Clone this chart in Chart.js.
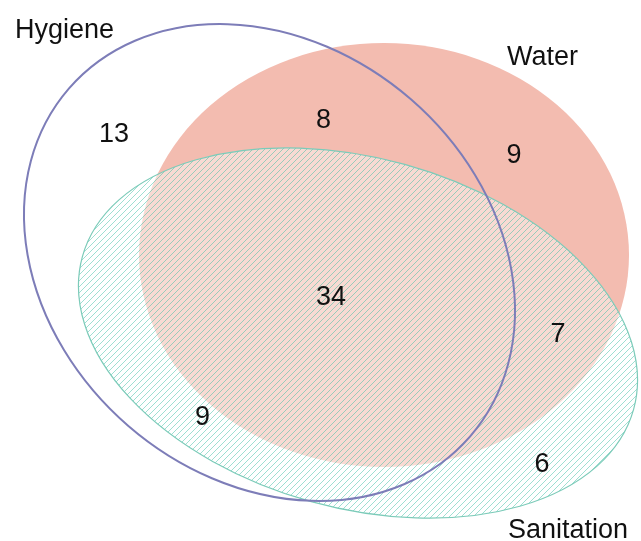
<!DOCTYPE html>
<html>
<head>
<meta charset="utf-8">
<script src="https://cdn.jsdelivr.net/npm/chart.js@4.4.0/dist/chart.umd.min.js"></script>
<style>
    html, body { margin: 0; padding: 0; background: #fff; }
    #wrap { width: 641px; height: 541px; }
</style>
</head>
<body>
<div id="wrap"><canvas id="venn" width="641" height="541"></canvas></div>
<script>
// ---- data ----
const setNames = ['Hygiene', 'Water', 'Sanitation'];
const regionNames = ['Hygiene only', 'Hygiene & Water', 'Water only', 'All three',
                     'Water & Sanitation', 'Hygiene & Sanitation', 'Sanitation only'];
const regionCounts = [13, 8, 9, 34, 7, 9, 6];

// ---- geometry (plot units, 1 unit = 1px, y grows downward) ----
const setShapes = [
    {cx: 269.5, cy: 262.5, rx: 265.5, ry: 216, rot: 40.9},   // Hygiene
    {cx: 384,   cy: 255,   rx: 245,   ry: 212, rot: 0},      // Water
    {cx: 358,   cy: 333,   rx: 286,   ry: 175, rot: 15.5}    // Sanitation
];
const countAnchors = [[114, 142], [323.5, 128], [514, 163], [331, 305], [558, 342], [202.5, 425], [542, 472]];
const nameAnchors = [[15, 38], [507, 65], [508, 538]];

const FONT = '27px "Liberation Sans", Arial, sans-serif';

function hatchPattern(ctx) {
    const c = document.createElement('canvas');
    c.width = 6; c.height = 6;
    const p = c.getContext('2d');
    p.strokeStyle = 'rgba(40,185,155,0.5)';
    p.lineWidth = 0.9;
    p.beginPath();
    p.moveTo(-1, 7); p.lineTo(7, -1);
    p.moveTo(-1, 1); p.lineTo(1, -1);
    p.moveTo(5, 7); p.lineTo(7, 5);
    p.stroke();
    return ctx.createPattern(c, 'repeat');
}

function ellipsePath(chart, s) {
    const x = chart.scales.x, y = chart.scales.y;
    const px = x.getPixelForValue(s.cx), py = y.getPixelForValue(s.cy);
    const prx = Math.abs(x.getPixelForValue(s.cx + s.rx) - px);
    const pry = Math.abs(y.getPixelForValue(s.cy + s.ry) - py);
    const ctx = chart.ctx;
    ctx.beginPath();
    ctx.ellipse(px, py, prx, pry, s.rot * Math.PI / 180, 0, Math.PI * 2);
}

const vennPlugin = {
    id: 'venn',
    beforeDatasetsDraw(chart) {
        const ctx = chart.ctx;
        ctx.save();
        // Water
        ellipsePath(chart, setShapes[1]);
        ctx.fillStyle = '#F3BCB0';
        ctx.fill();
        // Sanitation
        ellipsePath(chart, setShapes[2]);
        ctx.fillStyle = 'rgba(255,255,255,0.45)';
        ctx.fill();
        ctx.fillStyle = hatchPattern(ctx);
        ctx.fill();
        ctx.strokeStyle = '#7CCBB9';
        ctx.lineWidth = 1.2;
        ctx.stroke();
        // Hygiene
        ellipsePath(chart, setShapes[0]);
        ctx.strokeStyle = '#7D7DB8';
        ctx.lineWidth = 2;
        ctx.stroke();
        ctx.restore();
    },
    afterDatasetsDraw(chart) {
        const ctx = chart.ctx;
        ctx.save();
        ctx.font = FONT;
        ctx.fillStyle = '#111';
        ctx.textBaseline = 'alphabetic';
        chart.getDatasetMeta(0).data.forEach((pt, i) => {
            ctx.textAlign = 'center';
            ctx.fillText(String(regionCounts[i]), pt.x, pt.y);
        });
        chart.getDatasetMeta(1).data.forEach((pt, i) => {
            ctx.textAlign = 'left';
            ctx.fillText(setNames[i], pt.x, pt.y);
        });
        ctx.restore();
    }
};

new Chart(document.getElementById('venn'), {
    type: 'scatter',
    data: {
        datasets: [{
            label: 'counts',
            data: countAnchors.map((a, i) => ({x: a[0], y: a[1], name: regionNames[i]})),
            pointRadius: 0
        }, {
            label: 'sets',
            data: nameAnchors.map(a => ({x: a[0], y: a[1]})),
            pointRadius: 0
        }]
    },
    options: {
        responsive: false,
        animation: false,
        devicePixelRatio: 1,
        layout: {padding: 0},
        plugins: {legend: {display: false}, tooltip: {enabled: false}},
        scales: {
            x: {type: 'linear', min: 0, max: 641, display: false},
            y: {type: 'linear', min: 0, max: 541, reverse: true, display: false}
        }
    },
    plugins: [vennPlugin]
});
</script>
</body>
</html>
